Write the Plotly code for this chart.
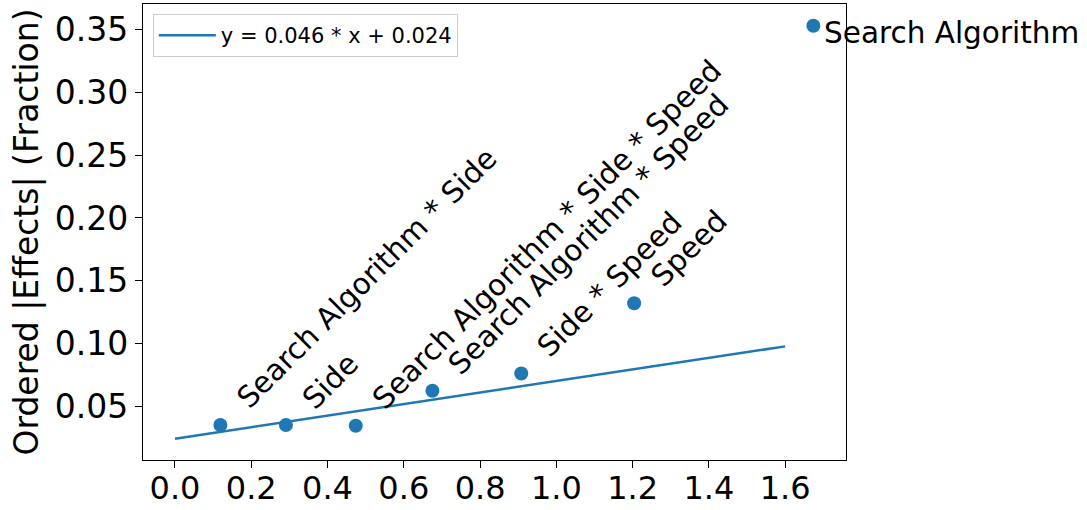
import plotly.graph_objects as go

# Half-normal plot data
effect_names = [
    "Search Algorithm * Side",
    "Side",
    "Search Algorithm * Side * Speed",
    "Search Algorithm * Speed",
    "Side * Speed",
    "Speed",
    "Search Algorithm",
]
quantiles = [0.119, 0.291, 0.474, 0.675, 0.908, 1.204, 1.674]
abs_effects = [0.0349, 0.0349, 0.0343, 0.0622, 0.0760, 0.1320, 0.3533]

fit_label = "y = 0.046 * x + 0.024"
fit_x = [0.0, 1.6]
fit_y = [0.024, 0.0976]

x_ticks = [0.0, 0.2, 0.4, 0.6, 0.8, 1.0, 1.2, 1.4, 1.6]
y_ticks = [0.05, 0.10, 0.15, 0.20, 0.25, 0.30, 0.35]

BLUE = "#1f77b4"
FONT = "DejaVu Sans"

fig = go.Figure()
fig.add_trace(go.Scatter(
    x=fit_x, y=fit_y, mode="lines", name=fit_label,
    line=dict(color=BLUE, width=2.5), showlegend=True,
))
fig.add_trace(go.Scatter(
    x=quantiles, y=abs_effects, mode="markers",
    marker=dict(color=BLUE, size=14), showlegend=False,
    cliponaxis=False,
))

annotations = []
for i, (name, qx, qy) in enumerate(zip(effect_names, quantiles, abs_effects)):
    if i == len(effect_names) - 1:
        annotations.append(dict(
            x=qx, y=qy, xref="x", yref="y", text=name, showarrow=False,
            xanchor="left", yanchor="middle", xshift=9, yshift=-7,
            font=dict(family=FONT, size=29.5, color="black"),
        ))
    else:
        annotations.append(dict(
            x=qx, y=qy, xref="x", yref="y", text=name, showarrow=False,
            textangle=-45, xanchor="left", yanchor="bottom",
            xshift=7, yshift=7,
            font=dict(family=FONT, size=29.5, color="black"),
        ))

fig.update_layout(
    width=1087, height=510,
    margin=dict(l=143, r=241, t=4, b=50),
    paper_bgcolor="white", plot_bgcolor="white",
    font=dict(family=FONT, color="black"),
    annotations=annotations,
    legend=dict(
        x=0.014, y=0.978, xanchor="left", yanchor="top",
        bgcolor="white", bordercolor="#cccccc", borderwidth=1,
        itemwidth=57,
        font=dict(family=FONT, size=21, color="black"),
    ),
    xaxis=dict(
        range=[-0.0839, 1.7596], tickvals=x_ticks,
        ticktext=[f"{v:.1f}" for v in x_ticks],
        showgrid=False, zeroline=False, showline=True, mirror=True,
        linecolor="black", linewidth=1.3, ticks="outside", ticklen=7,
        tickwidth=1.3, tickcolor="black", automargin=False,
        ticklabelstandoff=-8,
        tickfont=dict(family=FONT, size=32, color="black"),
    ),
    yaxis=dict(
        range=[0.007, 0.3706], tickvals=y_ticks,
        ticktext=[f"{v:.2f}" for v in y_ticks],
        showgrid=False, zeroline=False, showline=True, mirror=True,
        linecolor="black", linewidth=1.3, ticks="outside", ticklen=7,
        tickwidth=1.3, tickcolor="black", automargin=False,
        tickfont=dict(family=FONT, size=33, color="black"),
        title=dict(text="Ordered |Effects| (Fraction)",
                   font=dict(family=FONT, size=33, color="black"), standoff=6),
    ),
)

fig.write_html("out.html", config={"displayModeBar": False},
               post_script="document.body.style.margin='0px';")
